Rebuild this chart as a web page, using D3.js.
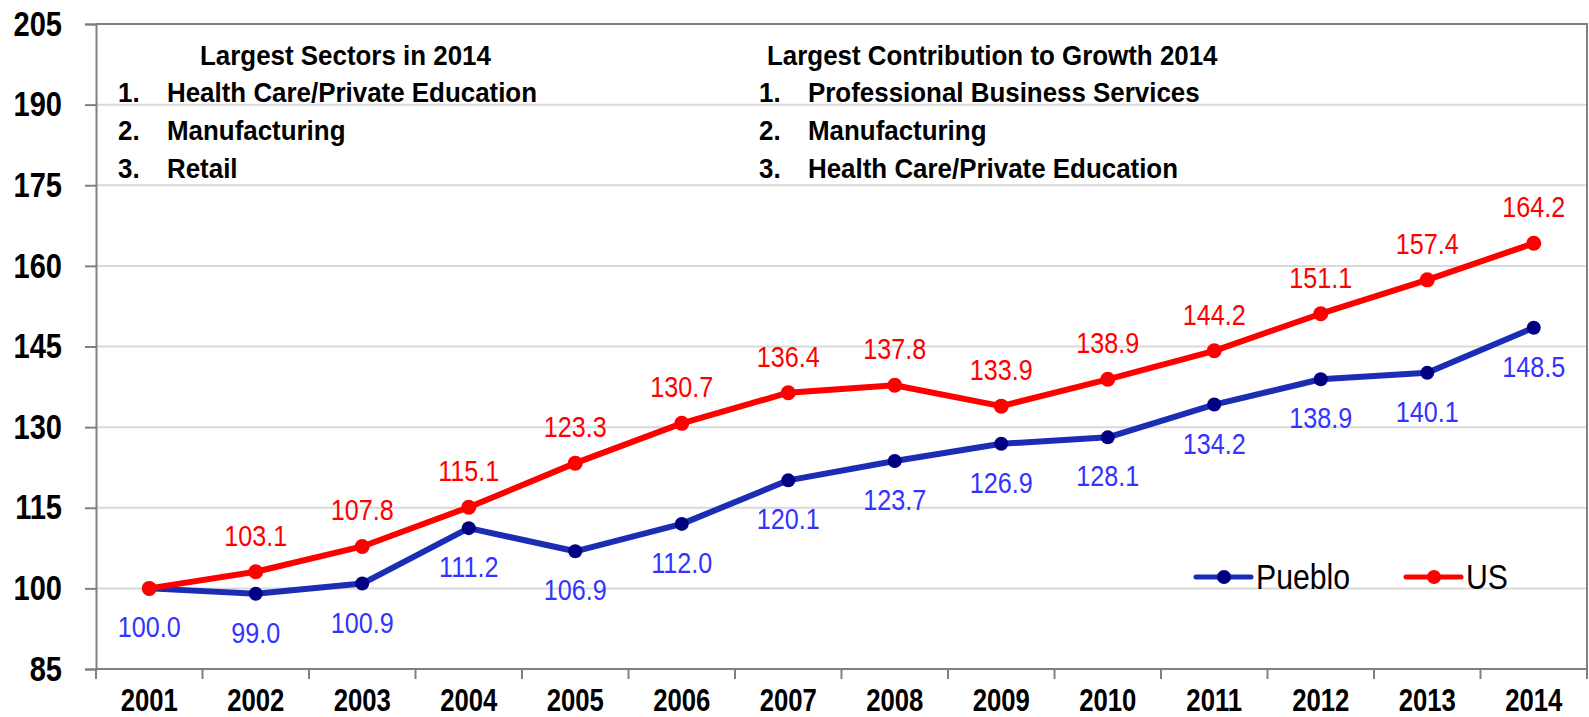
<!DOCTYPE html>
<html>
<head>
<meta charset="utf-8">
<script src="https://cdn.jsdelivr.net/npm/d3@7"></script>
<style>
  body { margin: 0; background: #fff; }
  svg { display: block; font-family: "Liberation Sans", Arial, sans-serif; }
</style>
</head>
<body>
<svg id="chart"></svg>
<script>
// data
const years = ["2001","2002","2003","2004","2005","2006","2007","2008","2009","2010","2011","2012","2013","2014"];
const pueblo = [100.0, 99.0, 100.9, 111.2, 106.9, 112.0, 120.1, 123.7, 126.9, 128.1, 134.2, 138.9, 140.1, 148.5];
const us = [100.0, 103.1, 107.8, 115.1, 123.3, 130.7, 136.4, 137.8, 133.9, 138.9, 144.2, 151.1, 157.4, 164.2];
const yTicks = [85, 100, 115, 130, 145, 160, 175, 190, 205];
const sectorsTitle = "Largest Sectors in 2014";
const sectors = ["Health Care/Private Education", "Manufacturing", "Retail"];
const growthTitle = "Largest Contribution to Growth 2014";
const growth = ["Professional Business Services", "Manufacturing", "Health Care/Private Education"];

// the original uses a narrow face, so squeeze text horizontally
function narrow(sel, sx) {
  sel.each(function() {
    const t = d3.select(this);
    const tx = +t.attr("x") || 0, ty = +t.attr("y") || 0;
    t.attr("x", 0).attr("y", 0)
      .attr("transform", "translate(" + tx + "," + ty + ") scale(" + sx + ",1)");
  });
}

// Set the dimensions and margins of the chart
const margin = { top: 24, right: 2, bottom: 48, left: 96 };
const width = 1589 - margin.left - margin.right;
const height = 717 - margin.top - margin.bottom;

const svg = d3.select("#chart")
  .attr("width", 1589)
  .attr("height", 717)
.append("g")
  .attr("transform", "translate(" + margin.left + "," + margin.top + ")");

const x = d3.scaleBand().domain(years).range([0, width]);
const y = d3.scaleLinear().domain([85, 205]).range([height, 0]);
const cx = d => x(d) + x.bandwidth() / 2;

// gridlines
svg.append("g")
  .selectAll("line")
  .data(yTicks.filter(t => t > 85 && t < 205))
  .join("line")
    .attr("x1", 0).attr("x2", width)
    .attr("y1", d => y(d)).attr("y2", d => y(d))
    .attr("stroke", "#d9d9d9")
    .attr("stroke-width", 2);

// frame (top + right)
svg.append("path")
  .attr("d", "M0," + y(205) + "H" + width + "V" + height)
  .attr("fill", "none")
  .attr("stroke", "#808080")
  .attr("stroke-width", 2);

// Y axis
const yAxis = svg.append("g")
  .call(d3.axisLeft(y).tickValues(yTicks).tickSize(11).tickPadding(23));
yAxis.selectAll("text")
  .attr("font-size", 35)
  .attr("font-weight", "bold")
  .attr("fill", "#000")
  .attr("font-family", "Liberation Sans, Arial, sans-serif")
  .attr("x", -34 / 0.83)
  .attr("transform", "scale(0.83,1)");
yAxis.selectAll("line").attr("stroke", "#808080").attr("stroke-width", 2);
yAxis.select(".domain").attr("stroke", "#808080").attr("stroke-width", 2);

// X axis (ticks between categories)
const xAxisG = svg.append("g")
  .attr("transform", "translate(0," + height + ")");
xAxisG.append("line")
  .attr("x1", 0).attr("x2", width)
  .attr("stroke", "#808080").attr("stroke-width", 2);
xAxisG.selectAll(".tk")
  .data(years.concat(["end"]))
  .join("line")
    .attr("class", "tk")
    .attr("x1", (d, i) => i < years.length ? x(d) : width)
    .attr("x2", (d, i) => i < years.length ? x(d) : width)
    .attr("y1", 0).attr("y2", 10)
    .attr("stroke", "#808080").attr("stroke-width", 2);
xAxisG.selectAll(".yl")
  .data(years)
  .join("text")
    .attr("class", "yl")
    .attr("x", d => cx(d))
    .attr("y", 42)
    .attr("text-anchor", "middle")
    .attr("font-size", 31)
    .attr("font-weight", "bold")
    .text(d => d)
    .call(narrow, 0.83);

// annotation blocks
function block(title, items, titleX, numX, textX) {
  const g = svg.append("g").attr("font-weight", "bold").attr("font-size", 27).attr("fill", "#000");
  g.append("text").attr("x", titleX).attr("y", 41).text(title);
  items.forEach(function(t, i) {
    g.append("text").attr("x", numX).attr("y", 78 + i * 38).text((i + 1) + ".");
    g.append("text").attr("x", textX).attr("y", 78 + i * 38).text(t);
  });
  g.selectAll("text").call(narrow, 0.96);
}
block(sectorsTitle, sectors, 104, 22, 71);
block(growthTitle, growth, 671, 663, 712);

// lines
const line = d3.line().x((d, i) => cx(years[i])).y(d => y(d));

svg.append("path")
  .datum(pueblo)
  .attr("fill", "none")
  .attr("stroke", "#1a2db4")
  .attr("stroke-width", 6)
  .attr("stroke-linejoin", "round")
  .attr("d", line);

svg.append("path")
  .datum(us)
  .attr("fill", "none")
  .attr("stroke", "#ff0000")
  .attr("stroke-width", 6)
  .attr("stroke-linejoin", "round")
  .attr("d", line);

svg.append("g")
  .selectAll("circle")
  .data(pueblo)
  .join("circle")
    .attr("cx", (d, i) => cx(years[i]))
    .attr("cy", d => y(d))
    .attr("r", 7)
    .attr("fill", "#000080");

svg.append("g")
  .selectAll("circle")
  .data(us)
  .join("circle")
    .attr("cx", (d, i) => cx(years[i]))
    .attr("cy", d => y(d))
    .attr("r", 7.5)
    .attr("fill", "#ff0000");

// data labels
svg.append("g")
  .selectAll("text")
  .data(pueblo)
  .join("text")
    .attr("x", (d, i) => cx(years[i]))
    .attr("y", d => y(d) + 49)
    .attr("text-anchor", "middle")
    .attr("font-size", 30)
    .attr("fill", "#3333ff")
    .text(d => d.toFixed(1))
    .call(narrow, 0.84);

svg.append("g")
  .selectAll("text")
  .data(us.slice(1))
  .join("text")
    .attr("x", (d, i) => cx(years[i + 1]))
    .attr("y", d => y(d) - 26)
    .attr("text-anchor", "middle")
    .attr("font-size", 30)
    .attr("fill", "#ff0000")
    .text(d => d.toFixed(1))
    .call(narrow, 0.84);

// legend
const legend = svg.append("g").attr("transform", "translate(1100,553)");
const items = [
  { name: "Pueblo", stroke: "#1a2db4", fill: "#000080", x: 0 },
  { name: "US", stroke: "#ff0000", fill: "#ff0000", x: 210 }
];
items.forEach(function(it) {
  legend.append("line")
    .attr("x1", it.x).attr("x2", it.x + 55)
    .attr("stroke", it.stroke).attr("stroke-width", 5)
    .attr("stroke-linecap", "round");
  legend.append("circle").attr("cx", it.x + 28).attr("r", 7).attr("fill", it.fill);
  legend.append("text")
    .attr("x", it.x + 60).attr("y", 12)
    .attr("font-size", 36)
    .attr("fill", "#000")
    .text(it.name)
    .call(narrow, 0.84);
});
</script>
</body>
</html>
